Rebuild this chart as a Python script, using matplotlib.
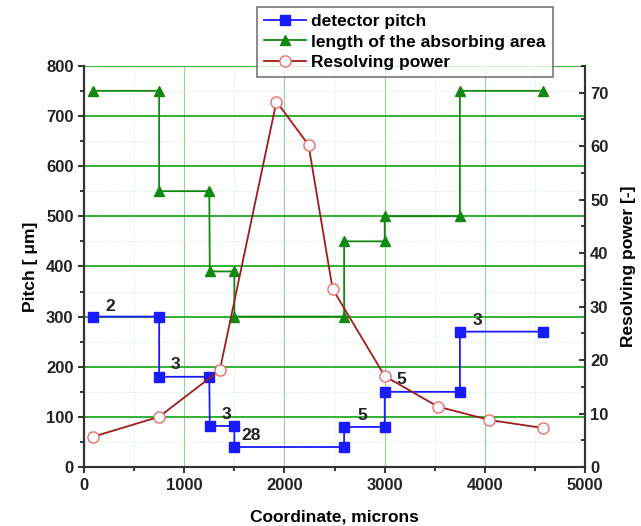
import numpy as np
import matplotlib.pyplot as plt
import matplotlib as mpl
from matplotlib.ticker import MultipleLocator

mpl.rcParams['font.family'] = ['Liberation Sans', 'DejaVu Sans']
mpl.rcParams['font.weight'] = 'bold'
mpl.rcParams['axes.labelweight'] = 'bold'

# detector pitch (left axis)
x_pitch = [95, 750, 750, 1250, 1255, 1500, 1500, 2595, 2595, 3000, 3000, 3750, 3750, 4580]
pitch = [300, 300, 180, 180, 82, 82, 40, 40, 80, 80, 150, 150, 270, 270]

# length of the absorbing area (left axis)
x_len = [95, 750, 750, 1250, 1255, 1500, 1500, 2595, 2595, 3000, 3000, 3750, 3750, 4580]
length = [750, 750, 550, 550, 390, 390, 300, 300, 450, 450, 500, 500, 750, 750]

# resolving power (right axis)
x_res = [95, 750, 1355, 1920, 2240, 2480, 3000, 3530, 4045, 4580]
res = [5.7, 9.4, 18.1, 68.3, 60.2, 33.3, 17.0, 11.3, 8.8, 7.3]

# numbers written next to the pitch steps
ann_text = ['2', '3', '3', '28', '5', '5', '3']
ann_x = [261, 913, 1419, 1668, 2772, 3166, 3921]
ann_y = [321, 204, 105, 63, 103, 174, 292]

fig = plt.figure(figsize=(6.41, 5.26), dpi=100)
ax = fig.add_axes([0.131, 0.112, 0.782, 0.763])
ax2 = ax.twinx()

ax.grid(True, which='major', axis='y', color='#33b033', lw=1.4)
ax.grid(True, which='major', axis='x', color='#8fd48f', lw=0.8)
ax.grid(True, which='minor', color='#c8ecc8', lw=0.6, ls=':')
ax.set_axisbelow(True)

l1, = ax.plot(x_pitch, pitch, '-s', color='#1a1aff', ms=6.5, lw=1.3, label='detector pitch')
l2, = ax.plot(x_len, length, '-^', color='#118811', ms=7.5, lw=1.3, label='length of the absorbing area')
l3, = ax2.plot(x_res, res, '-o', color='#a01c1c', mfc='white', mec='#e87070', ms=8, lw=1.3,
               label='Resolving power')

for t, xx, yy in zip(ann_text, ann_x, ann_y):
    ax.text(xx, yy, t, fontsize=12.5, fontweight='bold', ha='center', va='center', color='#222222')

ax.set_xlim(0, 5000)
ax.set_ylim(0, 800)
ax2.set_ylim(0, 75)
ax.xaxis.set_major_locator(MultipleLocator(1000))
ax.xaxis.set_minor_locator(MultipleLocator(500))
ax.yaxis.set_major_locator(MultipleLocator(100))
ax.yaxis.set_minor_locator(MultipleLocator(50))
ax2.yaxis.set_major_locator(MultipleLocator(10))
ax2.yaxis.set_minor_locator(MultipleLocator(5))

ax.tick_params(axis='both', which='major', direction='out', length=4, width=1.3, labelsize=12, colors='#222222')
ax.tick_params(axis='both', which='minor', direction='out', length=3, width=1.1)
ax2.tick_params(axis='y', which='major', direction='in', length=4, width=1.3, labelsize=12, colors='#222222')
ax2.tick_params(axis='y', which='minor', direction='in', length=3, width=1.1)

for a in (ax, ax2):
    a.spines['top'].set_visible(False)
    for s in ('left', 'right', 'bottom'):
        a.spines[s].set_linewidth(1.5)
        a.spines[s].set_color('#333333')

ax.set_xlabel('Coordinate, microns', fontsize=12.5, labelpad=12)
ax.set_ylabel('Pitch [ \u03bcm]', fontsize=12.5, labelpad=6)
ax2.set_ylabel('Resolving power [-]', fontsize=12.5, labelpad=9)

leg = fig.legend(handles=[l1, l2, l3], loc='upper left', bbox_to_anchor=(0.388, 1.003),
                 fontsize=12.5, frameon=True, fancybox=False, edgecolor='#555555',
                 handlelength=2.4, borderpad=0.4, labelspacing=0.3, handletextpad=0.3)
leg.get_frame().set_linewidth(1.2)

plt.savefig('out.png', dpi=100)
